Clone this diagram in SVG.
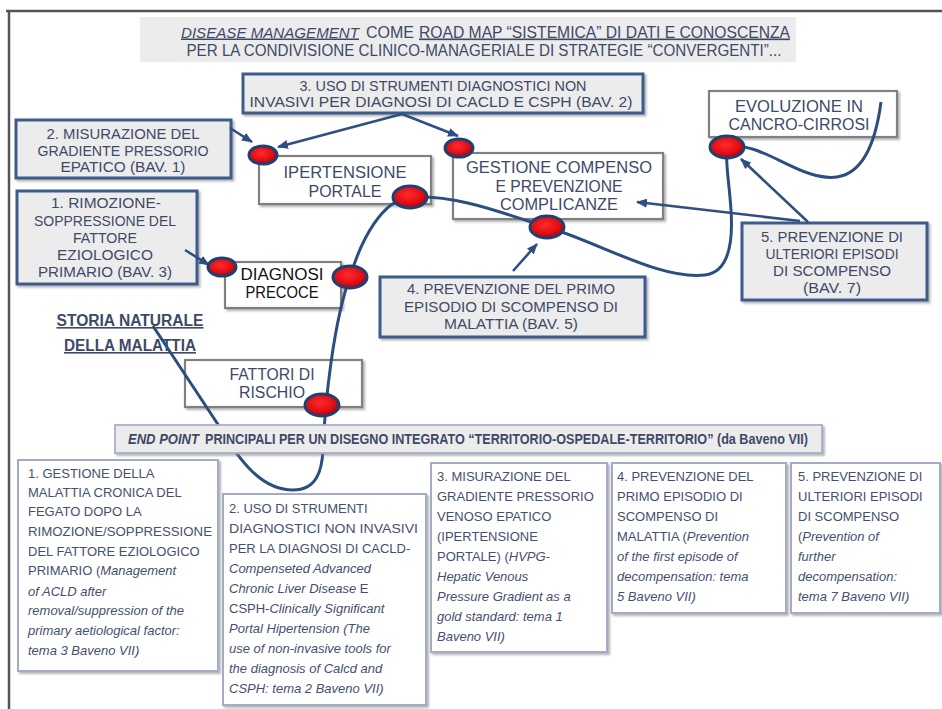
<svg xmlns="http://www.w3.org/2000/svg" width="942" height="709" viewBox="0 0 942 709">
<defs>
<filter id="sh" x="-10%" y="-10%" width="130%" height="140%">
<feDropShadow dx="2" dy="2" stdDeviation="1.2" flood-color="#7a7a7a" flood-opacity="0.55"/>
</filter>
<radialGradient id="red" cx="45%" cy="40%" r="60%">
<stop offset="0" stop-color="#ff2a2a"/>
<stop offset="0.7" stop-color="#e00c14"/>
<stop offset="1" stop-color="#a8000c"/>
</radialGradient>
<marker id="ah" markerUnits="userSpaceOnUse" markerWidth="11" markerHeight="9" refX="10" refY="4.5" orient="auto">
<path d="M0,0 L11,4.5 L0,9 z" fill="#2f4f82"/>
</marker>
</defs>
<style>
.t{font-family:"Liberation Sans",Arial,sans-serif;fill:#3e4968;}
.c{text-anchor:middle;}
.gbox{fill:#ececec;stroke:#3e5b8c;stroke-width:3;}
.wbox{fill:#ffffff;stroke:#808080;stroke-width:2.2;}
.bbox{fill:#ffffff;stroke:#a3abc9;stroke-width:2;}
.dot{fill:url(#red);stroke:#22406f;stroke-width:3;}
.cur{fill:none;stroke:#2c4d80;stroke-width:3;}
.arr{fill:none;stroke:#2f4f82;stroke-width:2.6;marker-end:url(#ah);}
.bt{font-family:"Liberation Sans",Arial,sans-serif;fill:#454f6e;font-size:13px;}
.i{font-style:italic;}
.u{text-decoration:underline;}
</style>
<rect x="0" y="0" width="942" height="709" fill="#ffffff"/>
<g id="frame">
<line x1="6" y1="11" x2="942" y2="11" stroke="#555" stroke-width="2.5"/>
<line x1="9" y1="10" x2="9" y2="709" stroke="#555" stroke-width="2.5"/>
</g>
<g id="title">
<rect x="140" y="17" width="656" height="45" fill="#ececec"/>
<text class="t i u" x="181" y="37.5" font-size="15" textLength="178" lengthAdjust="spacingAndGlyphs">DISEASE MANAGEMENT</text>
<text class="t" x="366" y="37.5" font-size="16.5" textLength="48" lengthAdjust="spacingAndGlyphs">COME</text>
<text class="t u" x="419" y="37.5" font-size="16.5" textLength="371" lengthAdjust="spacingAndGlyphs">ROAD MAP “SISTEMICA” DI DATI E CONOSCENZA</text>
<text class="t c" x="484" y="56" font-size="16.5" textLength="595" lengthAdjust="spacingAndGlyphs">PER LA CONDIVISIONE CLINICO-MANAGERIALE DI STRATEGIE “CONVERGENTI”...</text>
</g>
<g id="node-uso">
<rect class="gbox" x="243" y="74" width="400" height="39" filter="url(#sh)"/>
<text class="t c" x="443" y="91" font-size="14.3" textLength="287" lengthAdjust="spacingAndGlyphs">3. USO DI STRUMENTI DIAGNOSTICI NON</text>
<text class="t c" x="441" y="107" font-size="14.3" textLength="383" lengthAdjust="spacingAndGlyphs">INVASIVI PER DIAGNOSI DI CACLD E CSPH (BAV. 2)</text>
</g>
<g id="node-misurazione">
<rect class="gbox" x="16" y="120" width="215" height="58" filter="url(#sh)"/>
<text class="t c" x="123" y="139" font-size="14.3" textLength="153" lengthAdjust="spacingAndGlyphs">2. MISURAZIONE DEL</text>
<text class="t c" x="123" y="155.5" font-size="14.3" textLength="171" lengthAdjust="spacingAndGlyphs">GRADIENTE PRESSORIO</text>
<text class="t c" x="123" y="172" font-size="14.3" textLength="125" lengthAdjust="spacingAndGlyphs">EPATICO (BAV. 1)</text>
</g>
<g id="node-rimozione">
<rect class="gbox" x="17" y="191" width="180" height="93" filter="url(#sh)"/>
<text class="t c" x="106" y="208" font-size="15" textLength="110" lengthAdjust="spacingAndGlyphs">1. RIMOZIONE-</text>
<text class="t c" x="105" y="225.5" font-size="15" textLength="142" lengthAdjust="spacingAndGlyphs">SOPPRESSIONE DEL</text>
<text class="t c" x="105" y="243" font-size="15" textLength="64" lengthAdjust="spacingAndGlyphs">FATTORE</text>
<text class="t c" x="105" y="260" font-size="15" textLength="96" lengthAdjust="spacingAndGlyphs">EZIOLOGICO</text>
<text class="t c" x="105" y="277" font-size="15" textLength="134" lengthAdjust="spacingAndGlyphs">PRIMARIO (BAV. 3)</text>
</g>
<g id="node-ipertensione">
<rect class="wbox" x="259" y="156" width="172" height="48" filter="url(#sh)"/>
<text class="t c" x="345" y="178" font-size="17" textLength="123" lengthAdjust="spacingAndGlyphs">IPERTENSIONE</text>
<text class="t c" x="345" y="197" font-size="17" textLength="73" lengthAdjust="spacingAndGlyphs">PORTALE</text>
</g>
<g id="node-gestione">
<rect class="wbox" x="453" y="153" width="210" height="66" filter="url(#sh)"/>
<text class="t c" x="559" y="173" font-size="16" textLength="186" lengthAdjust="spacingAndGlyphs">GESTIONE COMPENSO</text>
<text class="t c" x="559" y="191.5" font-size="16" textLength="127" lengthAdjust="spacingAndGlyphs">E PREVENZIONE</text>
<text class="t c" x="559" y="210" font-size="16" textLength="118" lengthAdjust="spacingAndGlyphs">COMPLICANZE</text>
</g>
<g id="node-evoluzione">
<rect class="wbox" x="709" y="91" width="188" height="46" filter="url(#sh)"/>
<text class="t c" x="799" y="112" font-size="16" textLength="128" lengthAdjust="spacingAndGlyphs">EVOLUZIONE IN</text>
<text class="t c" x="799" y="130" font-size="16" textLength="141" lengthAdjust="spacingAndGlyphs">CANCRO-CIRROSI</text>
</g>
<g id="node-diagnosi">
<rect class="wbox" x="225" y="262" width="116" height="46" filter="url(#sh)"/>
<text class="t c" x="282" y="280" font-size="16" style="fill:#111" textLength="83" lengthAdjust="spacingAndGlyphs">DIAGNOSI</text>
<text class="t c" x="282" y="298" font-size="16" style="fill:#111" textLength="73" lengthAdjust="spacingAndGlyphs">PRECOCE</text>
</g>
<g id="node-fattori">
<rect class="wbox" x="185" y="360" width="177" height="47" filter="url(#sh)"/>
<text class="t c" x="272" y="380" font-size="16" textLength="85" lengthAdjust="spacingAndGlyphs">FATTORI DI</text>
<text class="t c" x="272" y="398" font-size="16" textLength="66" lengthAdjust="spacingAndGlyphs">RISCHIO</text>
</g>
<g id="node-prev4">
<rect class="gbox" x="380" y="277" width="265" height="60" filter="url(#sh)"/>
<text class="t c" x="511" y="294" font-size="15" textLength="208" lengthAdjust="spacingAndGlyphs">4. PREVENZIONE DEL PRIMO</text>
<text class="t c" x="511" y="311.5" font-size="15" textLength="214" lengthAdjust="spacingAndGlyphs">EPISODIO DI SCOMPENSO DI</text>
<text class="t c" x="511" y="329" font-size="15" textLength="134" lengthAdjust="spacingAndGlyphs">MALATTIA (BAV. 5)</text>
</g>
<g id="node-prev5">
<rect class="gbox" x="742" y="223" width="185" height="77" filter="url(#sh)"/>
<text class="t c" x="832" y="242" font-size="15" textLength="142" lengthAdjust="spacingAndGlyphs">5. PREVENZIONE DI</text>
<text class="t c" x="832" y="259" font-size="15" textLength="133" lengthAdjust="spacingAndGlyphs">ULTERIORI EPISODI</text>
<text class="t c" x="832" y="276" font-size="15" textLength="118" lengthAdjust="spacingAndGlyphs">DI SCOMPENSO</text>
<text class="t c" x="832" y="293" font-size="15" textLength="58" lengthAdjust="spacingAndGlyphs">(BAV. 7)</text>
</g>
<g id="node-storia">
<text class="t c u" x="130" y="326" font-size="16" font-weight="bold" textLength="147" lengthAdjust="spacingAndGlyphs">STORIA NATURALE</text>
<text class="t c u" x="130" y="351" font-size="16" font-weight="bold" textLength="132" lengthAdjust="spacingAndGlyphs">DELLA MALATTIA</text>
</g>
<g id="connectors">
<path class="cur" d="M153 326 L219 426 C240 462 262 490 293 490 C317 490 322 470 323 450 C325 400 334 320 350 277 C362 237 383 200 410 197 C460 194 515 218 547 227 C600 243 660 280 705 275 C730 272 733 240 731 210 C729 180 725 162 727 147 C762 140 800 182 837 177 C864 173 876 140 881 102"/>
<path class="arr" d="M402 114 L278 147"/>
<path class="arr" d="M402 114 L458 136"/>
<path class="arr" d="M230 128 L252 142"/>
<path class="arr" d="M185 250 L209 265"/>
<path class="arr" d="M513 271 L537 244"/>
<path class="arr" d="M808 222 L741 159"/>
<path class="arr" d="M800 221 L637 202"/>
</g>
<g id="dots">
<ellipse class="dot" cx="263" cy="155" rx="14" ry="9"/>
<ellipse class="dot" cx="459" cy="148" rx="14" ry="9"/>
<ellipse class="dot" cx="410" cy="197" rx="17" ry="11"/>
<ellipse class="dot" cx="222" cy="267" rx="14" ry="9"/>
<ellipse class="dot" cx="350" cy="277" rx="17" ry="11"/>
<ellipse class="dot" cx="322" cy="405" rx="17" ry="11"/>
<ellipse class="dot" cx="547" cy="227" rx="17" ry="11"/>
<ellipse class="dot" cx="727" cy="147" rx="17" ry="11"/>
</g>
<g id="node-endpoint">
<rect x="115" y="425" width="707" height="28" fill="#ececec" stroke="#a8b0cc" stroke-width="1.8" filter="url(#sh)"/>
<text class="t i" x="128" y="444" font-size="14.5" font-weight="bold" textLength="71" lengthAdjust="spacingAndGlyphs">END POINT</text>
<text class="t" x="205" y="444" font-size="14.5" font-weight="bold" textLength="603" lengthAdjust="spacingAndGlyphs">PRINCIPALI PER UN DISEGNO INTEGRATO “TERRITORIO-OSPEDALE-TERRITORIO” (da Baveno VII)</text>
</g>
<g id="node-b1">
<rect class="bbox" x="18" y="460" width="200" height="211" filter="url(#sh)"/>
<text class="bt" x="28" y="478">1. GESTIONE DELLA</text>
<text class="bt" x="28" y="497">MALATTIA CRONICA DEL</text>
<text class="bt" x="28" y="516">FEGATO DOPO LA</text>
<text class="bt" x="28" y="536" textLength="184" lengthAdjust="spacingAndGlyphs">RIMOZIONE/SOPPRESSIONE</text>
<text class="bt" x="28" y="556">DEL FATTORE EZIOLOGICO</text>
<text class="bt" x="28" y="575">PRIMARIO (<tspan class="i">Management</tspan></text>
<text class="bt i" x="28" y="596">of ACLD after</text>
<text class="bt i" x="28" y="615">removal/suppression of the</text>
<text class="bt i" x="28" y="635">primary aetiological factor:</text>
<text class="bt i" x="28" y="655">tema 3 Baveno VII)</text>
</g>
<g id="node-b2">
<rect class="bbox" x="223" y="494" width="203" height="211" filter="url(#sh)"/>
<text class="bt" x="229" y="513">2. USO DI STRUMENTI</text>
<text class="bt" x="229" y="533" textLength="189" lengthAdjust="spacingAndGlyphs">DIAGNOSTICI NON INVASIVI</text>
<text class="bt" x="229" y="553">PER LA DIAGNOSI DI CACLD-</text>
<text class="bt i" x="229" y="573">Compenseted Advanced</text>
<text class="bt" x="229" y="593"><tspan class="i">Chronic Liver Disease</tspan> E</text>
<text class="bt" x="229" y="613">CSPH-<tspan class="i">Clinically Significant</tspan></text>
<text class="bt i" x="229" y="633">Portal Hipertension (The</text>
<text class="bt i" x="229" y="653">use of non-invasive tools for</text>
<text class="bt i" x="229" y="673">the diagnosis of Calcd and</text>
<text class="bt i" x="229" y="693">CSPH: tema 2 Baveno VII)</text>
</g>
<g id="node-b3">
<rect class="bbox" x="431" y="463" width="176" height="189" filter="url(#sh)"/>
<text class="bt" x="437" y="481">3. MISURAZIONE DEL</text>
<text class="bt" x="437" y="501">GRADIENTE PRESSORIO</text>
<text class="bt" x="437" y="521">VENOSO EPATICO</text>
<text class="bt" x="437" y="541">(IPERTENSIONE</text>
<text class="bt" x="437" y="561">PORTALE) (<tspan class="i">HVPG-</tspan></text>
<text class="bt i" x="437" y="581">Hepatic Venous</text>
<text class="bt i" x="437" y="601">Pressure Gradient as a</text>
<text class="bt i" x="437" y="621">gold standard: tema 1</text>
<text class="bt i" x="437" y="641">Baveno VII)</text>
</g>
<g id="node-b4">
<rect class="bbox" x="612" y="463" width="174" height="150" filter="url(#sh)"/>
<text class="bt" x="617" y="481">4. PREVENZIONE DEL</text>
<text class="bt" x="617" y="501">PRIMO EPISODIO DI</text>
<text class="bt" x="617" y="521">SCOMPENSO DI</text>
<text class="bt" x="617" y="541">MALATTIA (<tspan class="i">Prevention</tspan></text>
<text class="bt i" x="617" y="561">of the first episode of</text>
<text class="bt i" x="617" y="581">decompensation: tema</text>
<text class="bt i" x="617" y="601">5 Baveno VII)</text>
</g>
<g id="node-b5">
<rect class="bbox" x="791" y="463" width="149" height="150" filter="url(#sh)"/>
<text class="bt" x="798" y="481">5. PREVENZIONE DI</text>
<text class="bt" x="798" y="501">ULTERIORI EPISODI</text>
<text class="bt" x="798" y="521">DI SCOMPENSO</text>
<text class="bt" x="798" y="541">(<tspan class="i">Prevention of</tspan></text>
<text class="bt i" x="798" y="561">further</text>
<text class="bt i" x="798" y="581">decompensation:</text>
<text class="bt i" x="798" y="601">tema 7 Baveno VII)</text>
</g>
</svg>
